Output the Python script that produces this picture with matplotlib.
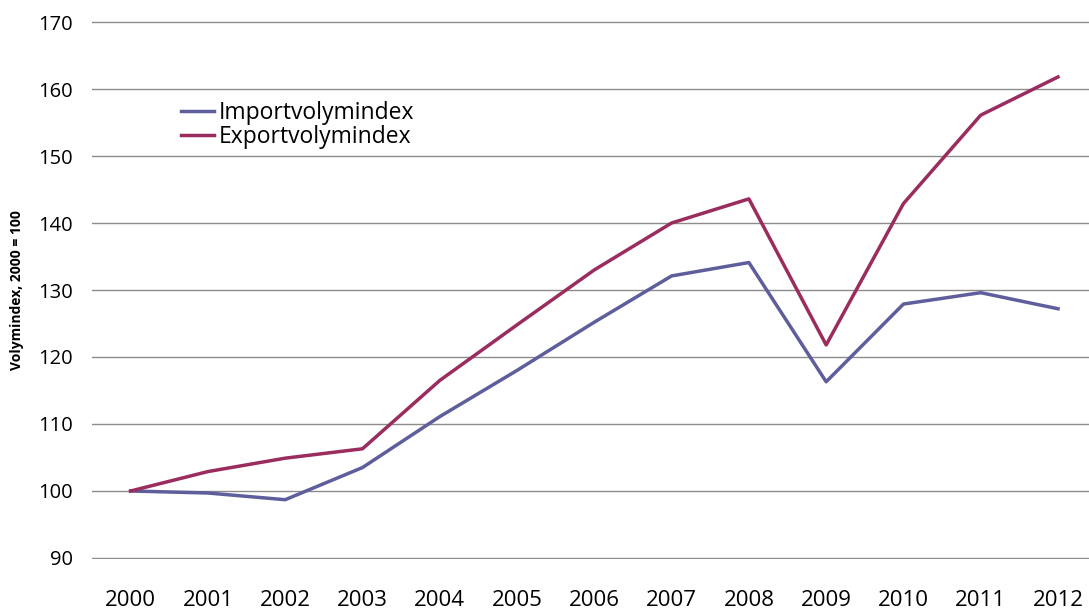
import numpy as np
import matplotlib.pyplot as plt

years = ['2000', '2001', '2002', '2003', '2004', '2005', '2006',
         '2007', '2008', '2009', '2010', '2011', '2012']
importvolym = [100, 99.7, 98.7, 103.5, 111.1, 118.0, 125.2,
               132.1, 134.1, 116.3, 127.9, 129.6, 127.2]
exportvolym = [100, 102.9, 104.9, 106.3, 116.5, 124.8, 133.0,
               140.0, 143.6, 121.8, 142.9, 156.1, 161.8]

plt.rcParams['font.family'] = ['Open Sans', 'DejaVu Sans']

fig = plt.figure(figsize=(10.89, 6.10), dpi=100)
ax = fig.add_axes([92 / 1089, 1 - 559 / 610, 1 - 92 / 1089, (559 - 21) / 610])

x = np.arange(len(years))
ax.plot(x, importvolym, color='#5F5E9C', lw=2.5, label='Importvolymindex')
ax.plot(x, exportvolym, color='#9B2C5E', lw=2.5, label='Exportvolymindex')

ax.set_ylim(89.85, 170.15)
ax.set_yticks(range(90, 171, 10))
ax.set_xlim(-0.5, 12 + 31 / 77.3)
ax.set_xticks(x)
ax.set_xticklabels(years)
ax.grid(axis='y', color='#8C8C8C', lw=1.0)
ax.set_axisbelow(True)
for s in ax.spines.values():
    s.set_visible(False)
ax.tick_params(axis='both', length=0)
ax.tick_params(axis='x', pad=22, labelsize=16)
ax.tick_params(axis='y', pad=14, labelsize=14.5)
ax.set_ylabel('Volymindex, 2000 = 100', fontsize=10, fontweight='bold', labelpad=10)

ax.legend(loc='upper left', bbox_to_anchor=(0.08, 0.868), frameon=False,
          fontsize=16.5, handlelength=1.45, handletextpad=0.2, labelspacing=0.0,
          borderaxespad=0)

fig.savefig('out.png', dpi=100)
